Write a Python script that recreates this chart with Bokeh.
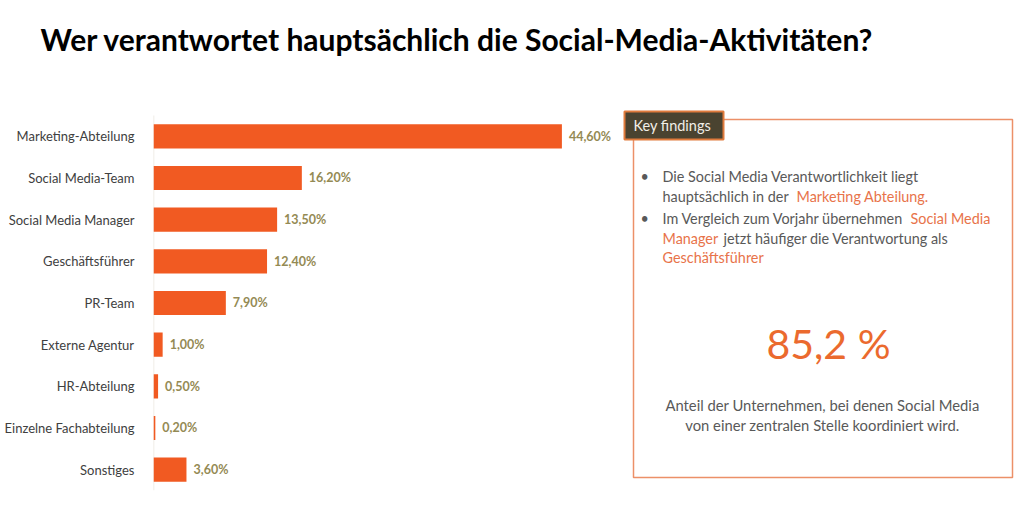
from bokeh.plotting import figure
from bokeh.layouts import column
from bokeh.models import Range1d, FixedTicker, ColumnDataSource
from bokeh.core.properties import value
from bokeh.embed import file_html
from bokeh.resources import INLINE

# ---- data ----
categories = ["Marketing-Abteilung", "Social Media-Team", "Social Media Manager",
              "Geschäftsführer", "PR-Team", "Externe Agentur", "HR-Abteilung",
              "Einzelne Fachabteilung", "Sonstiges"]
shares = [44.6, 16.2, 13.5, 12.4, 7.9, 1.0, 0.5, 0.2, 3.6]
title_text = "Wer verantwortet hauptsächlich die Social-Media-Aktivitäten?"
key_value = "85,2 %"

FONT = "Lato"
BAR = "#F15A22"
VAL = "#948A54"
GRAY = "#595959"
ORANGE_T = "#E8734A"

n = len(categories)
ypos = [n - i for i in range(n)]
labels = [f"{v:.2f}".replace(".", ",") + "%" for v in shares]

W = 1024
TITLE_H = 100
H = 417
LEFT, BOTTOM = 153, 27

# ---- title strip (figure whose own title carries the heading) ----
t = figure(width=W, height=TITLE_H, output_backend="svg", toolbar_location=None,
           x_range=Range1d(0, 1), y_range=Range1d(0, 1),
           min_border_left=LEFT, min_border_right=0, min_border_top=0,
           min_border_bottom=0)
t.axis.visible = False
t.grid.visible = False
t.outline_line_color = None
t.title.text = title_text
t.title.text_font = FONT
t.title.text_font_style = "bold"
t.title.text_font_size = "30px"
t.title.text_color = "#000000"
t.title.align = "left"
t.title.offset = -113
t.title.standoff = 36

# ---- chart ----
frame_w = W - LEFT
frame_h = H - BOTTOM
px_per_unit = 9.157
p = figure(width=W, height=H, output_backend="svg", toolbar_location=None,
           x_range=Range1d(0, frame_w / px_per_unit),
           y_range=Range1d(0.5, 0.5 + frame_h / 41.667),
           min_border_left=LEFT, min_border_right=0,
           min_border_top=0, min_border_bottom=BOTTOM, title=None)
p.outline_line_color = None
p.background_fill_color = "white"
p.border_fill_color = "white"
p.xgrid.visible = False
p.ygrid.visible = False
p.xaxis.visible = False

# pixel-like ranges for the key-findings panel
p.extra_x_ranges = {"px": Range1d(0, frame_w)}
p.extra_y_ranges = {"py": Range1d(0, frame_h)}

def X(page_x):
    return page_x - LEFT

def Y(page_y):
    return (TITLE_H + frame_h) - page_y

# y axis
yax = p.yaxis[0]
yax.ticker = FixedTicker(ticks=ypos)
yax.major_label_overrides = {y: c for y, c in zip(ypos, categories)}
yax.major_tick_line_color = None
yax.minor_tick_line_color = None
yax.axis_line_color = None
yax.major_label_text_font = FONT
yax.major_label_text_font_size = "13px"
yax.major_label_text_color = "#404040"
yax.major_label_standoff = 13

src = ColumnDataSource(dict(y=ypos, v=shares, lab=labels, cat=categories))
p.segment(x0=0, y0=0.5, x1=0, y1=n + 0.5, line_color="#ECE8E0", line_width=1.5)
p.hbar(y="y", right="v", left=0, height=0.58, source=src,
       fill_color=BAR, line_color=None)
p.text(x="v", y="y", text="lab", source=src, x_offset=7,
       text_baseline="middle", text_font=value(FONT), text_font_style="bold",
       text_font_size="12.5px", text_color=VAL)

# ---- key findings panel ----
p.quad(left=[X(633)], right=[X(1012)], top=[Y(119)], bottom=[Y(477)],
       x_range_name="px", y_range_name="py",
       fill_color=None, line_color="#EC9068", line_width=1.5)
p.quad(left=[X(624)], right=[X(723)], top=[Y(111)], bottom=[Y(139)],
       x_range_name="px", y_range_name="py",
       fill_color="#4A4330", line_color="#E07B3C", line_width=2)
p.text(x=[X(633)], y=[Y(125)], text=["Key findings"], x_range_name="px",
       y_range_name="py", text_baseline="middle", text_font=value(FONT),
       text_font_size="14.5px", text_color="#F2EFE8")

segs = [
    ("•", 640, 176, GRAY),
    ("Die Social Media Verantwortlichkeit liegt", 662, 176, GRAY),
    ("hauptsächlich in der", 662, 196, GRAY),
    ("Marketing Abteilung.", 796, 196, ORANGE_T),
    ("•", 640, 218, GRAY),
    ("Im Vergleich zum Vorjahr übernehmen", 662, 218, GRAY),
    ("Social Media", 910, 218, ORANGE_T),
    ("Manager", 662, 238, ORANGE_T),
    ("jetzt häufiger die Verantwortung als", 723, 238, GRAY),
    ("Geschäftsführer", 662, 257, ORANGE_T),
]
p.text(x=[X(s[1]) for s in segs], y=[Y(s[2]) for s in segs],
       text=[s[0] for s in segs], text_color=[s[3] for s in segs],
       x_range_name="px", y_range_name="py", text_baseline="middle",
       text_font=value(FONT), text_font_size="14.4px")

p.text(x=[X(828)], y=[Y(343)], text=[key_value], x_range_name="px",
       y_range_name="py", text_align="center", text_baseline="middle",
       text_font=value(FONT), text_font_size="41px", text_color="#EB6A2E")
p.text(x=[X(822), X(822)], y=[Y(404), Y(424)],
       text=["Anteil der Unternehmen, bei denen Social Media",
             "von einer zentralen Stelle koordiniert wird."],
       x_range_name="px", y_range_name="py", text_align="center",
       text_baseline="middle", text_font=value(FONT), text_font_size="14.8px",
       text_color=GRAY)

layout = column(t, p, spacing=0)
open("out.html", "w").write(file_html(layout, INLINE))
